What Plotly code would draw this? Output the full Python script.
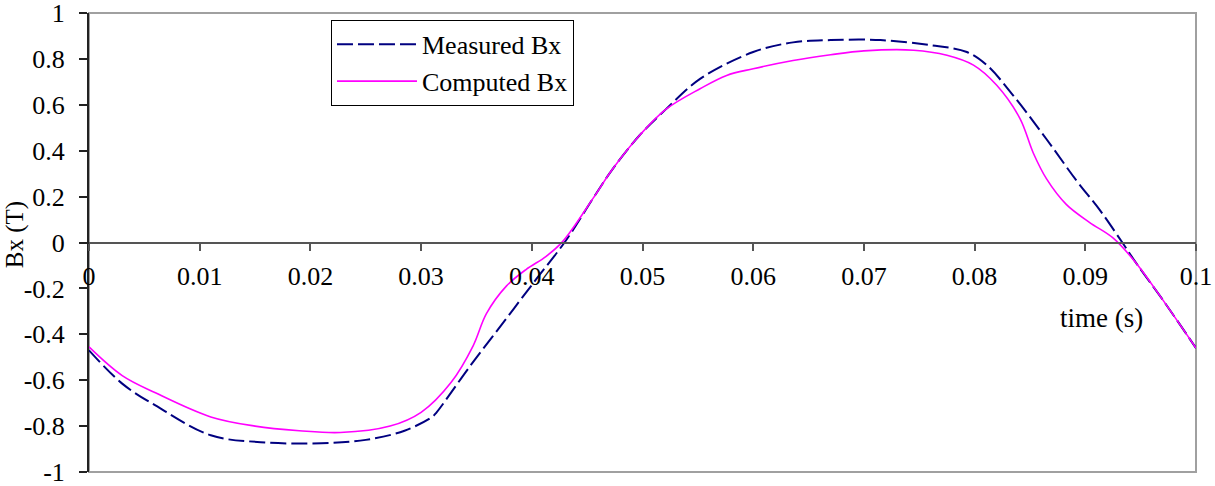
import plotly.graph_objects as go

# Measured Bx
t_meas = [0, 0.003, 0.006, 0.011, 0.0155, 0.021, 0.025, 0.0285, 0.031, 0.0314,
          0.0344, 0.0374, 0.0404, 0.0431, 0.0455, 0.0473, 0.0497, 0.0521, 0.0552,
          0.06, 0.0636, 0.067, 0.0715, 0.076, 0.0793, 0.0811, 0.0835, 0.0865,
          0.0892, 0.0913, 0.0933, 0.0946, 0.097, 0.1]
bx_meas = [-0.47, -0.615, -0.71, -0.84, -0.87, -0.875, -0.86, -0.82, -0.76, -0.74,
           -0.54, -0.35, -0.16, 0.01, 0.19, 0.32, 0.465, 0.58, 0.713,
           0.83, 0.872, 0.882, 0.882, 0.86, 0.83, 0.773, 0.64, 0.45,
           0.27, 0.142, 0.003, -0.09, -0.25, -0.46]

# Computed Bx
t_comp = [0, 0.003, 0.006, 0.011, 0.015, 0.019, 0.0227, 0.0272, 0.03, 0.0327,
          0.0347, 0.0359, 0.0377, 0.0395, 0.0413, 0.0428, 0.0455, 0.0473, 0.0497,
          0.0521, 0.0552, 0.0576, 0.06, 0.0636, 0.067, 0.07, 0.0745, 0.0775,
          0.0799, 0.082, 0.0841, 0.0853, 0.0865, 0.0883, 0.0904, 0.0925, 0.0946,
          0.097, 0.1]
bx_comp = [-0.455, -0.58, -0.655, -0.76, -0.80, -0.82, -0.828, -0.80, -0.74, -0.61,
           -0.45, -0.31, -0.19, -0.117, -0.06, 0.005, 0.19, 0.32, 0.465,
           0.58, 0.67, 0.728, 0.757, 0.793, 0.818, 0.835, 0.838, 0.816,
           0.773, 0.685, 0.54, 0.39, 0.277, 0.165, 0.087, 0.02, -0.09,
           -0.25, -0.46]

x_ticks = [0, 0.01, 0.02, 0.03, 0.04, 0.05, 0.06, 0.07, 0.08, 0.09, 0.1]
x_labels = ["0", "0.01", "0.02", "0.03", "0.04", "0.05", "0.06", "0.07", "0.08", "0.09", "0.1"]
y_ticks = [1, 0.8, 0.6, 0.4, 0.2, 0, -0.2, -0.4, -0.6, -0.8, -1]
y_labels = ["1", "0.8", "0.6", "0.4", "0.2", "0", "-0.2", "-0.4", "-0.6", "-0.8", "-1"]

FONT = "Liberation Serif, Times New Roman, serif"

fig = go.Figure()
fig.add_trace(go.Scatter(x=t_meas, y=bx_meas, mode="lines", name="Measured Bx",
                         line=dict(color="#000080", width=2, dash="16px,5px", shape="spline")))
fig.add_trace(go.Scatter(x=t_comp, y=bx_comp, mode="lines", name="Computed Bx",
                         line=dict(color="#ff00ff", width=1.6, shape="spline")))

fig.update_layout(
    width=1215, height=486,
    margin=dict(l=89, r=19, t=13, b=14, autoexpand=False),
    paper_bgcolor="white", plot_bgcolor="white",
    font=dict(family=FONT, size=26, color="black"),
    showlegend=True,
    legend=dict(x=0.2186, y=0.985, xanchor="left", yanchor="top",
                bgcolor="white", bordercolor="black", borderwidth=1,
                font=dict(family=FONT, size=26, color="black"),
                itemwidth=80, tracegroupgap=0),
    xaxis=dict(range=[0, 0.1], anchor="free", position=0.5, automargin=False,
               tickvals=x_ticks, ticktext=x_labels, ticklabeloverflow="allow",
               showline=True, linecolor="#555555", linewidth=2,
               ticks="outside", ticklen=7, tickwidth=1.5, tickcolor="#555555",
               ticklabelstandoff=3,
               showgrid=False, zeroline=False,
               tickfont=dict(family=FONT, size=26, color="black")),
    yaxis=dict(range=[-1, 1], tickvals=y_ticks, ticktext=y_labels, automargin=False,
               ticklabeloverflow="allow",
               showline=True, linecolor="#222222", linewidth=2,
               ticks="outside", ticklen=8, tickwidth=1.5, tickcolor="#222222",
               ticklabelstandoff=9,
               showgrid=False, zeroline=False,
               tickfont=dict(family=FONT, size=26, color="black")),
    shapes=[dict(type="rect", xref="paper", yref="paper", x0=0, x1=1, y0=0, y1=1,
                 line=dict(color="#a0a0a0", width=2), layer="below")],
    annotations=[
        dict(text="Bx (T)", xref="paper", yref="paper", x=-0.0668, y=0.516,
             textangle=-90, showarrow=False, xanchor="center", yanchor="middle",
             font=dict(family=FONT, size=25, color="black")),
        dict(text="time (s)", xref="paper", yref="paper", x=0.915, y=0.336,
             showarrow=False, xanchor="center", yanchor="middle",
             font=dict(family=FONT, size=27, color="black")),
    ],
)

fig.write_html("out.html")
